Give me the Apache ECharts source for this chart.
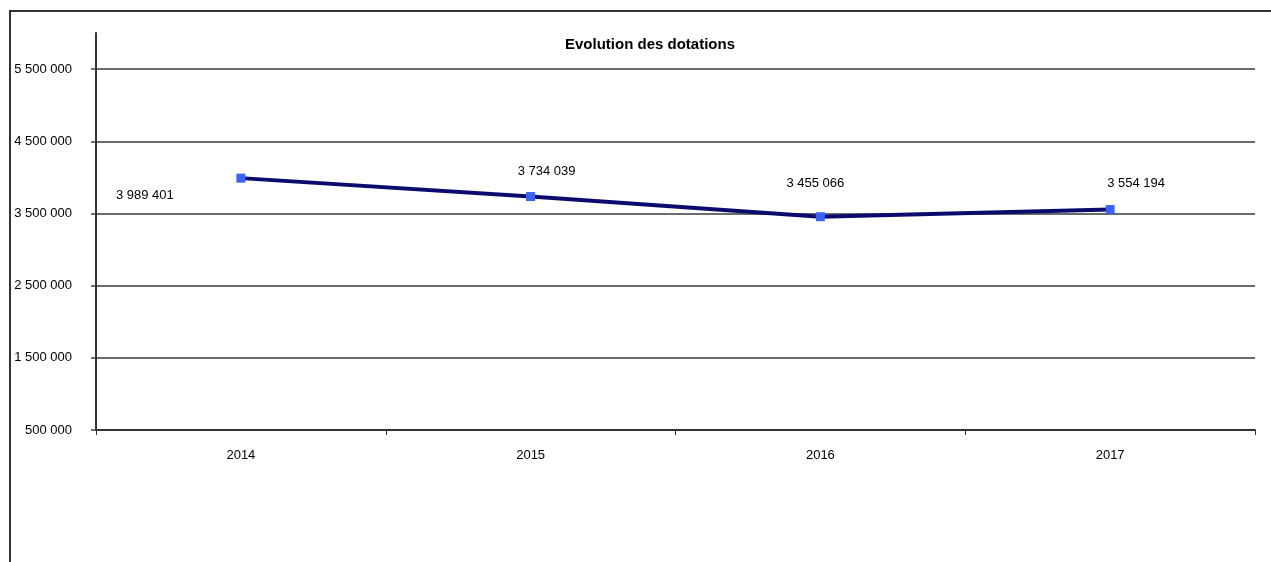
<!DOCTYPE html>
<html>
<head>
<meta charset="utf-8">
<script src="https://cdn.jsdelivr.net/npm/echarts@6/dist/echarts.min.js"></script>
<style>
html,body{margin:0;padding:0;background:#fff;}
#chart{width:1271px;height:562px;}
</style>
</head>
<body>
<div id="chart"></div>
<script>
const categories = ['2014', '2015', '2016', '2017'];
const dotations = [3989401, 3734039, 3455066, 3554194];
const yTicks = [500000, 1500000, 2500000, 3500000, 4500000, 5500000];
const titleText = 'Evolution des dotations';

const FONT = '"Liberation Sans", Arial, sans-serif';

function fmt(v) {
  return String(v).replace(/\B(?=(\d{3})+(?!\d))/g, ' ');
}

const labelOffsets = [[-96, 17], [16, -25], [-5, -33], [26, -26]];

const seriesData = dotations.map((v, i) => ({
  value: v,
  label: { offset: labelOffsets[i] }
}));

const chart = echarts.init(document.getElementById('chart'));
chart.setOption({
  animation: false,
  backgroundColor: '#fff',
  title: {
    text: titleText,
    left: 645,
    top: 32,
    textAlign: 'center',
    textStyle: { fontFamily: FONT, fontSize: 15, fontWeight: 'bold', color: '#000' }
  },
  graphic: [{
    type: 'rect',
    shape: { x: 10, y: 11, width: 1300, height: 600 },
    style: { fill: 'none', stroke: '#333', lineWidth: 2 },
    silent: true
  }],
  grid: { left: 96, right: 16, top: 33, bottom: 132, containLabel: false },
  xAxis: {
    type: 'category',
    data: categories,
    boundaryGap: true,
    axisLine: { lineStyle: { color: '#333', width: 2 } },
    axisTick: { show: true, length: 5, lineStyle: { color: '#333', width: 1 } },
    axisLabel: { fontFamily: FONT, fontSize: 13, color: '#000', margin: 19 }
  },
  yAxis: {
    type: 'value',
    min: 500000,
    max: 6000000,
    interval: 1000000,
    axisLine: { show: true, lineStyle: { color: '#333', width: 2 } },
    axisTick: { show: true, length: 5, lineStyle: { color: '#444', width: 1.5 }, customValues: yTicks },
    axisLabel: {
      fontFamily: FONT, fontSize: 13, color: '#000', margin: 24,
      customValues: yTicks,
      formatter: v => fmt(v)
    },
    splitLine: { show: true, lineStyle: { color: '#3a3a3a', width: 1.6 } }
  },
  series: [{
    type: 'line',
    data: seriesData,
    symbol: 'rect',
    symbolSize: 9,
    lineStyle: { color: '#0b0b6e', width: 4 },
    itemStyle: { color: '#3b63f0' },
    label: {
      show: true,
      position: 'inside',
      fontFamily: FONT,
      fontSize: 13,
      color: '#000',
      formatter: p => fmt(p.value)
    },
    z: 5
  }]
});
</script>
</body>
</html>
